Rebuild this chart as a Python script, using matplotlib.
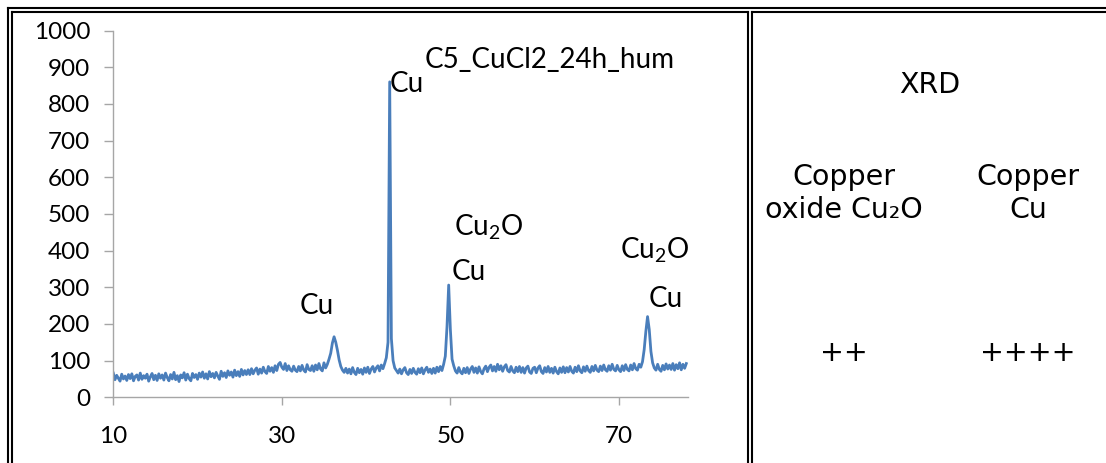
import numpy as np
import matplotlib
matplotlib.use("Agg")
import matplotlib.pyplot as plt
from matplotlib.lines import Line2D

plt.rcParams['mathtext.default'] = 'regular'

# XRD scan C5_CuCl2_24h_hum: 2-theta from 10 to 78 deg in 0.2 deg steps
two_theta_start = 10.0
two_theta_end = 78.0
intensity = [
    66, 48, 60, 52, 44, 63, 50, 58, 46, 62,      # 10
    51, 64, 45, 57, 61, 47, 66, 49, 59, 52,      # 12
    63, 44, 56, 65, 48, 60, 46, 64, 52, 61,      # 14
    47, 66, 54, 45, 62, 50, 68, 48, 59, 43,      # 16
    61, 53, 67, 47, 63, 51, 45, 65, 54, 62,      # 18
    49, 66, 55, 69, 52, 64, 50, 70, 56, 65,      # 20
    53, 68, 58, 49, 71, 57, 67, 54, 72, 60,      # 22
    69, 55, 74, 59, 70, 57, 76, 61, 73, 62,      # 24
    75, 62, 78, 64, 74, 80, 63, 77, 66, 82,      # 26
    70, 65, 84, 71, 81, 68, 86, 73, 90, 95,      # 28
    82, 76, 92, 73, 86, 75, 71, 85, 74, 70,      # 30
    84, 72, 87, 74, 69, 89, 76, 73, 86, 71,      # 32
    88, 75, 92, 77, 72, 94, 80, 90, 104, 120,    # 34
    148, 165, 150, 128, 102, 84, 74, 68, 79, 66, # 36
    77, 64, 81, 68, 62, 79, 67, 76, 63, 80,      # 38
    68, 82, 65, 77, 84, 69, 80, 86, 72, 88,      # 40
    78, 92, 108, 150, 860, 160, 100, 80, 73, 66, # 42
    77, 64, 75, 81, 67, 62, 76, 65, 79, 68,      # 44
    63, 78, 67, 80, 64, 75, 82, 68, 77, 65,      # 46
    79, 66, 82, 70, 84, 73, 90, 112, 192, 306,   # 48
    185, 104, 86, 72, 66, 81, 69, 64, 79, 67,    # 50
    81, 65, 77, 84, 68, 80, 66, 83, 70, 64,      # 52
    78, 85, 70, 82, 88, 72, 84, 71, 90, 75,      # 54
    86, 71, 83, 89, 73, 69, 84, 72, 67, 82,      # 56
    70, 84, 68, 81, 66, 80, 85, 69, 65, 79,      # 58
    82, 67, 80, 86, 70, 65, 81, 69, 84, 68,      # 60
    79, 66, 82, 70, 64, 80, 68, 83, 67, 81,      # 62
    69, 84, 71, 66, 82, 70, 86, 72, 67, 83,      # 64
    71, 85, 73, 68, 84, 72, 87, 74, 70, 85,      # 66
    73, 88, 75, 71, 86, 74, 90, 76, 72, 87,      # 68
    75, 70, 86, 73, 89, 76, 72, 88, 75, 92,      # 70
    78, 74, 90, 82, 97, 130, 180, 220, 185, 125, # 72
    94, 80, 74, 90, 76, 71, 87, 75, 91, 77,      # 74
    88, 76, 92, 74, 89, 78, 94, 75, 90, 79,      # 76
    92,                                          # 78
]
two_theta = np.linspace(two_theta_start, two_theta_end, len(intensity))

x_ticks = [10, 30, 50, 70]
y_ticks = [0, 100, 200, 300, 400, 500, 600, 700, 800, 900, 1000]

sample_name = "C5_CuCl2_24h_hum"
# (label, x, y) peak assignments
peak_labels = [
    ("Cu", 42.85, 833),
    ("Cu", 32.1, 226),
    ("Cu$_2$O", 50.4, 442),
    ("Cu", 50.1, 321),
    ("Cu$_2$O", 70.1, 379),
    ("Cu", 73.55, 247),
]

# Table contents to the right of the chart
table_header = "XRD"
phase_names = [("Copper", "oxide Cu\u2082O"), ("Copper", "Cu")]
phase_levels = ["++", "++++"]

W, H = 1106, 463
fig = plt.figure(figsize=(W / 100, H / 100), dpi=100)
fig.patch.set_facecolor("white")

# overlay in pixel coordinates for the table frame and text
ov = fig.add_axes([0, 0, 1, 1], zorder=0)
ov.set_xlim(0, W)
ov.set_ylim(H, 0)
ov.axis("off")
ov.patch.set_alpha(0)

lw = 1.5
frame = [
    ((7.5, W), (8, 8)),
    ((11.5, 747.5), (12, 12)),
    ((751.5, W), (12, 12)),
    ((7.5, 7.5), (8, H)),
    ((11.5, 11.5), (12, H)),
    ((747.5, 747.5), (12, H)),
    ((751.5, 751.5), (12, H)),
]
for xs, ys in frame:
    ov.add_line(Line2D(xs, ys, color="black", lw=lw, solid_capstyle="projecting"))

rfont = dict(family="DejaVu Sans", fontsize=20.5, color="black", ha="center", va="baseline")
ov.text(930, 93, table_header, **rfont)
col_x = [844, 1028]
for cx, (l1, l2), lev in zip(col_x, phase_names, phase_levels):
    ov.text(cx, 185, l1, **rfont)
    ov.text(cx, 218, l2, **rfont)
    ov.text(cx, 361, lev, **rfont)

# chart axes
left_px, right_px = 113.3, 688.0
y0_px, y1000_px = 397.3, 30.5
ax = fig.add_axes([left_px / W, (H - y0_px) / H,
                   (right_px - left_px) / W, (y0_px - y1000_px) / H], zorder=1)
ax.patch.set_alpha(0)
ax.plot(two_theta, intensity, color="#4a7ebb", lw=2.0)
ax.set_xlim(10, 78.2)
ax.set_ylim(0, 1000)
ax.set_xticks(x_ticks)
ax.set_yticks(y_ticks)
ax.set_xticklabels([str(t) for t in x_ticks])
ax.set_yticklabels([str(t) for t in y_ticks])

gray = "#a6a6a6"
for side in ("top", "right"):
    ax.spines[side].set_visible(False)
for side in ("left", "bottom"):
    ax.spines[side].set_color(gray)
    ax.spines[side].set_linewidth(1.0)
ax.tick_params(axis="y", direction="out", length=6.5, width=1.0, color=gray,
               pad=10, labelsize=17.5, labelcolor="black")
ax.tick_params(axis="x", direction="out", length=6, width=1.0, color=gray,
               pad=15, labelsize=17.5, labelcolor="black")
for lab in ax.get_xticklabels() + ax.get_yticklabels():
    lab.set_family("Lato")

tfont = dict(family="Lato", fontsize=20, color="black", va="baseline", ha="left")
ax.text(46.9, 897, sample_name, **tfont)
for text, x, y in peak_labels:
    ax.text(x, y, text, **tfont)

fig.savefig("out.png", dpi=100, facecolor="white")
